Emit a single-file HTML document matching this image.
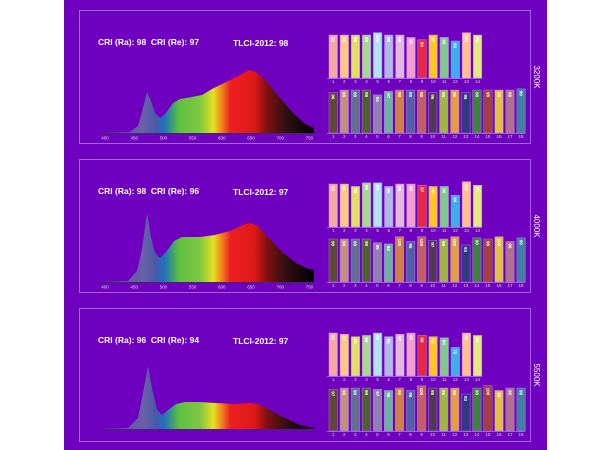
<!DOCTYPE html>
<html><head><meta charset="utf-8"><style>
html,body{margin:0;padding:0;background:#fff;width:610px;height:450px;overflow:hidden}
svg{display:block;font-family:"Liberation Sans",sans-serif}
</style></head><body>
<svg id="s" width="610" height="450" xmlns="http://www.w3.org/2000/svg">
<defs>
<linearGradient id="spec" x1="100" x2="314" y1="0" y2="0" gradientUnits="userSpaceOnUse">
<stop offset="0" stop-color="#5a4a9a"/>
<stop offset="0.2" stop-color="#6a60a8"/>
<stop offset="0.26" stop-color="#4a5aa8"/>
<stop offset="0.3" stop-color="#2070c0"/>
<stop offset="0.34" stop-color="#40a070"/>
<stop offset="0.37" stop-color="#60c040"/>
<stop offset="0.47" stop-color="#80c840"/>
<stop offset="0.53" stop-color="#e8e020"/>
<stop offset="0.57" stop-color="#f08020"/>
<stop offset="0.61" stop-color="#ec2020"/>
<stop offset="0.72" stop-color="#e01818"/>
<stop offset="0.78" stop-color="#801010"/>
<stop offset="0.87" stop-color="#301010"/>
<stop offset="1" stop-color="#000"/>
</linearGradient>
</defs>
<rect x="64" y="0" width="483" height="450" fill="#7000c0"/>
</svg>
<script>
const s=document.getElementById('s');let h='';
const top14=['#f4a8a0','#fcc880','#e0e060','#a8d890','#b0e4f0','#b0b8e8','#e0b8e0','#f0a0c8','#e82840','#ffc820','#80c890','#38b0e8','#ffc090','#e0e880'];
const bot18=['#604838','#c09080','#607090','#506030','#9080b0','#70b0a0','#d08040','#5060a0','#c06060','#503858','#a0b840','#e0a040','#303880','#408040','#a04040','#e0c040','#b07090','#4080a0'];
const P=[
{o:0,k:'3200K',ra:98,re:97,tl:98,ax:true,
t:[98,98,98,98,100,98,98,96,94,98,96,93,100,98],
b:[96,98,98,98,94,97,98,98,98,96,98,98,96,98,98,98,98,99],
sp:[[100,133],[130,132],[138,126],[143,108],[147,92],[151,101],[155,113],[160,118],[166,113],[173,103],[180,99],[192,97],[202,95],[212,89],[224,83],[238,76],[249,70],[256,72],[266,81],[280,98],[294,114],[305,124],[314,128],[314,133]]},
{o:149,k:'4000K',ra:98,re:96,tl:97,ax:true,
t:[98,98,96,99,99,96,98,98,97,96,96,84,100,97],
b:[98,98,98,98,95,94,100,96,100,97,98,100,93,99,98,100,96,99],
sp:[[100,133],[128,132],[137,122],[142,100],[147,64],[151,88],[155,104],[160,109],[166,103],[174,92],[182,88],[200,88],[215,86],[230,82],[243,76],[250,74],[258,77],[268,88],[282,103],[296,114],[306,119],[314,121],[314,133]]},
{o:298,k:'5500K',ra:96,re:94,tl:97,ax:false,
t:[98,97,95,96,98,95,97,98,96,95,94,72,98,96],
b:[97,98,98,98,97,96,98,96,100,98,98,98,93,98,100,96,98,98],
sp:[[100,131],[128,130],[138,120],[143,95],[148,68],[152,90],[157,112],[162,117],[168,112],[176,106],[185,104],[200,104],[215,105],[235,106],[250,105],[258,106],[270,112],[285,120],[300,127],[314,130],[314,131]]}
];
function bh(v){return v>=90?43-(98-v)*1.2:(v>=80?43-(98-v)*0.8:43-(98-v)*0.55);}
for(const p of P){const o=p.o;
h+=`<rect x="79.5" y="${10.5+o}" width="451" height="133" fill="none" stroke="#9a6ad8" stroke-width="1"/>`;
h+=`<text x="98" y="${45+o}" fill="#fff" font-size="8.5" font-weight="bold">CRI (Ra): ${p.ra}&#160; CRI (Re): ${p.re}</text>`;
h+=`<text x="233" y="${46+o}" fill="#fff" font-size="8.5" font-weight="bold">TLCI-2012: ${p.tl}</text>`;
h+=`<path d="M${p.sp.map(a=>a[0]+','+(a[1]+o)).join(' L')} Z" fill="url(#spec)"/>`;
h+=`<line x1="100" x2="314" y1="${133.5+o}" y2="${133.5+o}" stroke="#3a2a6a" stroke-width="1"/>`;
if(p.ax){for(let i=0;i<8;i++){h+=`<text x="${105+i*29.2}" y="${139.5+o}" fill="#ddd" font-size="4.5" text-anchor="middle">${400+i*50}</text>`;}}
const tb=78+o;
h+=`<line x1="327" x2="482" y1="${tb+0.5}" y2="${tb+0.5}" stroke="#9a60d8"/>`;
p.t.forEach((v,i)=>{const x=329+i*11.1,hh=bh(v);h+=`<rect x="${x}" y="${tb-hh}" width="8.5" height="${hh}" fill="${top14[i]}" stroke="#c080ff" stroke-width="0.5"/>`;
h+=`<text transform="translate(${x+2.6},${tb-hh+2}) rotate(90)" fill="#fff" font-size="4.5" font-weight="bold">${v}</text>`;
h+=`<text x="${x+4.2}" y="${tb+5}" fill="#ddd" font-size="4.5" text-anchor="middle">${i+1}</text>`;});
const bb=133+o;
h+=`<line x1="327" x2="525" y1="${bb+0.5}" y2="${bb+0.5}" stroke="#9a60d8"/>`;
p.b.forEach((v,i)=>{const x=329+i*11.05,hh=bh(v);h+=`<rect x="${x}" y="${bb-hh}" width="8.5" height="${hh}" fill="${bot18[i]}" stroke="#b070f0" stroke-width="0.5"/>`;
h+=`<text transform="translate(${x+2.6},${bb-hh+2}) rotate(90)" fill="#fff" font-size="4.5" font-weight="bold">${v}</text>`;
h+=`<text x="${x+4.2}" y="${bb+5}" fill="#ddd" font-size="4.5" text-anchor="middle">${i+1}</text>`;});
h+=`<text transform="translate(534,${77+o}) rotate(90)" fill="#fff" font-size="8" text-anchor="middle">${p.k}</text>`;
}
s.insertAdjacentHTML('beforeend',h);
</script>
</body></html>
